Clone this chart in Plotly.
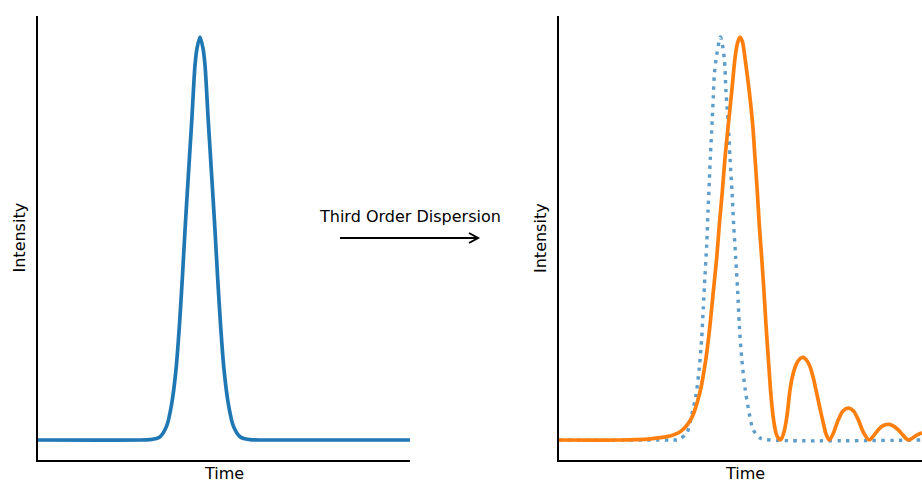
import plotly.graph_objects as go

W, H = 922, 484

# ---- data (time in fs relative to the input pulse centre, intensity normalised) ----
t_in = [-162, -60, -50, -45, -40, -33.3, -28.3, -24, -20.7, -17.7, -15, -11.7, -8.3, -5, -3, 0,
        3, 5, 8.3, 11.7, 15, 17.7, 20.7, 24, 28.3, 33.3, 40, 45, 50, 60, 210]
i_in = [0, 0, 0.001, 0.003, 0.008, 0.035, 0.09, 0.175, 0.28, 0.40, 0.52, 0.655, 0.79, 0.93, 0.972, 1.0,
        0.972, 0.93, 0.79, 0.655, 0.52, 0.40, 0.28, 0.175, 0.09, 0.035, 0.008, 0.003, 0.001, 0, 0]

t_ref = [-162, -50, -42.7, -34.3, -29.3, -25, -21.7, -19.3, -17.7, -16, -14.3, -13, -11.7, -10.7,
         -9.7, -8.7, -7.7, -6.7, -4.3, -0.5, 3.3, 5, 7.3, 9, 11, 12.7, 14.7, 16.7, 18.3, 20.7,
         24, 27.3, 32.3, 39, 49, 201]
i_ref = [0, 0, 0.001, 0.017, 0.062, 0.112, 0.179, 0.253, 0.327, 0.409, 0.484, 0.566, 0.64, 0.70,
         0.749, 0.799, 0.852, 0.906, 0.955, 1.0, 0.947, 0.864, 0.782, 0.70, 0.616, 0.533, 0.452,
         0.368, 0.285, 0.203, 0.129, 0.079, 0.025, 0.005, 0, 0]

t_tod = [-162, -100, -85, -71, -61, -51, -40, -29.3, -21, -15, -11, -7.7, -4.3, -1.7, 1.3, 4, 7.3,
         10.7, 14, 16.5, 19, 21.5, 24, 28.3, 31.7, 34, 36.3, 38.3, 40.7, 43, 45, 47.3, 49.7, 52.3,
         55.7, 59.7, 63, 66, 69, 72, 75.7, 79, 82.3, 85.5, 89, 92.5, 95.7, 99, 102.3, 105, 108.3,
         112, 117.3, 122, 127.3, 132.5, 137.3, 143, 148.3, 153, 159, 163.5, 168.3, 173, 177.3,
         182, 187.3, 195.7, 201]
i_tod = [0, 0, 0.001, 0.003, 0.006, 0.01, 0.022, 0.055, 0.119, 0.203, 0.285, 0.368, 0.452, 0.533,
         0.616, 0.70, 0.782, 0.864, 0.947, 0.985, 1.0, 0.988, 0.947, 0.864, 0.782, 0.70, 0.616,
         0.533, 0.452, 0.368, 0.285, 0.203, 0.119, 0.055, 0.012, 0.0, 0.02, 0.06, 0.124, 0.163,
         0.19, 0.202, 0.205, 0.198, 0.182, 0.152, 0.116, 0.078, 0.042, 0.015, 0.0, 0.015, 0.05,
         0.072, 0.079, 0.072, 0.05, 0.016, 0.0, 0.012, 0.03, 0.037, 0.039, 0.034, 0.025, 0.012,
         0.0, 0.012, 0.018]

x_label = "Time"
y_label = "Intensity"
arrow_label = "Third Order Dispersion"

BLUE = "#1f77b4"
ORANGE = "#ff7f0e"
FONT = "DejaVu Sans"


def px(x):
    return x / W


def py(y):
    return 1 - y / H


fig = go.Figure()
fig.add_trace(go.Scatter(x=t_in, y=i_in, mode="lines", xaxis="x", yaxis="y",
                         line=dict(color=BLUE, width=3.7, shape="spline", smoothing=0.8),
                         hoverinfo="skip"))
fig.add_trace(go.Scatter(x=t_ref, y=i_ref, mode="lines", xaxis="x2", yaxis="y2",
                         line=dict(color="rgba(31,119,180,0.72)", width=3.4, dash="3.4px,5.4px",
                                   shape="spline", smoothing=0.8),
                         hoverinfo="skip"))
fig.add_trace(go.Scatter(x=t_tod, y=i_tod, mode="lines", xaxis="x2", yaxis="y2",
                         line=dict(color=ORANGE, width=3.7, shape="spline", smoothing=0.8),
                         hoverinfo="skip"))

ydom = [py(460), py(16)]
yrng = [-0.0496, 1.0521]
axstyle = dict(showline=True, linecolor="black", linewidth=1.7, showgrid=False,
               zeroline=False, showticklabels=False, ticks="", fixedrange=True)

fig.update_layout(
    width=W, height=H,
    margin=dict(l=0, r=0, t=0, b=0),
    paper_bgcolor="white", plot_bgcolor="white",
    showlegend=False,
    font=dict(family=FONT, size=16, color="black"),
    xaxis=dict(domain=[px(38), px(410)], range=[-162, 210], anchor="y", **axstyle),
    yaxis=dict(domain=ydom, range=yrng, anchor="x", **axstyle),
    xaxis2=dict(domain=[px(559), 1.0], range=[-162, 201], anchor="y2", **axstyle),
    yaxis2=dict(domain=ydom, range=yrng, anchor="x2", **axstyle),
)

annots = [
    dict(text=x_label, x=px(224), y=py(484), xanchor="center", yanchor="bottom"),
    dict(text=x_label, x=px(745), y=py(484), xanchor="center", yanchor="bottom"),
    dict(text=y_label, x=px(18.5), y=py(238), xanchor="center", yanchor="middle", textangle=-90),
    dict(text=y_label, x=px(540), y=py(238), xanchor="center", yanchor="middle", textangle=-90),
    dict(text=arrow_label, x=px(410), y=py(216), xanchor="center", yanchor="middle"),
]
for a in annots:
    fig.add_annotation(xref="paper", yref="paper", showarrow=False, borderpad=0,
                       font=dict(family=FONT, size=16, color="black"), **a)

# arrow: shaft + open head
fig.add_shape(type="line", xref="paper", yref="paper",
              x0=px(340), y0=py(238), x1=px(477), y1=py(238),
              line=dict(color="black", width=2))
fig.add_shape(type="path", xref="paper", yref="paper",
              path=f"M {px(469)},{py(233)} L {px(478)},{py(238)} L {px(469)},{py(243)}",
              line=dict(color="black", width=2))

fig.write_html("out.html")
